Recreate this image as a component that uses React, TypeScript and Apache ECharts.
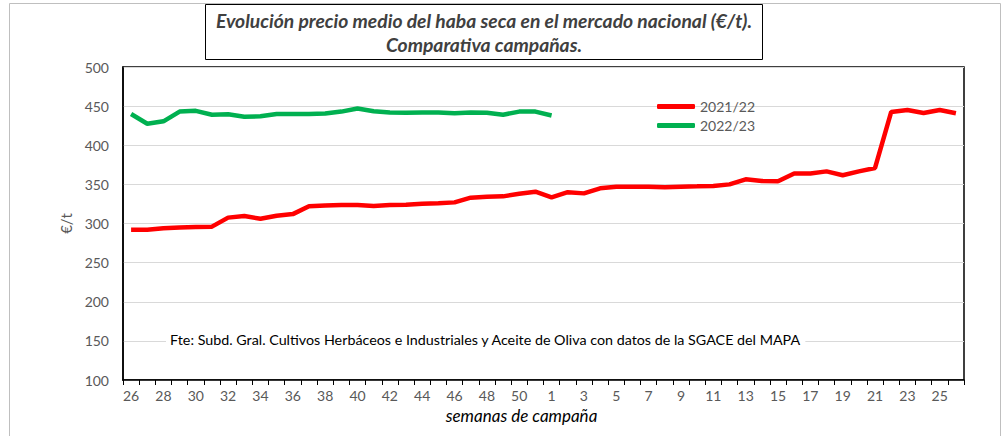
import React, { useEffect, useRef } from "react";
import * as echarts from "echarts";

const weeks = [
  "26","27","28","29","30","31","32","33","34","35","36","37","38","39","40","41","42","43","44","45","46","47","48","49","50","51",
  "1","2","3","4","5","6","7","8","9","10","11","12","13","14","15","16","17","18","19","20","21","22","23","24","25","26",
];

const serie2122 = [
  292, 292, 294, 295, 295.5, 296, 307.5, 309.5, 306, 310, 312, 322, 323, 323.5, 323.6, 322.5, 323.5, 324, 325.3, 326, 327, 333, 334.3, 334.7, 338, 340.6,
  333.5, 340, 338.5, 345, 347, 347, 347, 346.2, 347, 347.5, 348, 350, 356.5, 354.3, 354, 364, 364, 366.6, 361.6, 366.6, 371, 442.5, 445, 441.2, 445, 440.8,
];

const serie2223 = [
  440, 427.5, 430.6, 443, 444, 439, 439.5, 436.5, 437, 440, 440, 440, 440.5, 443, 447, 443.5, 442, 441.5, 442, 442, 441, 442, 441.5, 439, 443, 443,
  438,
];

const seriesNames = ["2021/22", "2022/23"];
const yTicks = { min: 100, max: 500, interval: 50 };

const FONT = "Lato, 'Open Sans', sans-serif";

export default function App() {
  const ref = useRef<HTMLDivElement>(null);
  useEffect(() => {
    if (!ref.current) return;
    const chart = echarts.init(ref.current, undefined, { renderer: "svg" });
    chart.setOption({
      animation: false,
      backgroundColor: "#ffffff",
      textStyle: { fontFamily: FONT },
      grid: {
        left: 123,
        right: 44,
        top: 67,
        bottom: 56,
        containLabel: false,
        show: true,
        borderColor: "#000",
        borderWidth: 1.5,
        backgroundColor: "transparent",
      },
      legend: {
        data: [
          { name: seriesNames[0], icon: "roundRect" },
          { name: seriesNames[1], icon: "roundRect" },
        ],
        orient: "vertical",
        left: 652,
        top: 93,
        itemWidth: 38,
        itemHeight: 5,
        itemGap: 2,
        textStyle: { color: "#595959", fontSize: 14, lineHeight: 17, fontFamily: FONT },
      },
      xAxis: {
        type: "category",
        data: weeks,
        boundaryGap: true,
        name: "semanas de campaña",
        nameLocation: "middle",
        nameGap: 26,
        nameTextStyle: {
          fontStyle: "italic",
          color: "#000",
          fontSize: 17,
          fontFamily: FONT,
          padding: [0, 44, 0, 0],
        },
        axisLine: { lineStyle: { color: "#000", width: 1.5 } },
        axisTick: { show: true, alignWithLabel: false, interval: 0, length: 5, lineStyle: { color: "#000" } },
        axisLabel: { interval: 1, color: "#595959", fontSize: 14, margin: 8, fontFamily: FONT },
        splitLine: { show: false },
      },
      yAxis: {
        type: "value",
        min: yTicks.min,
        max: yTicks.max,
        interval: yTicks.interval,
        name: "€/t",
        nameLocation: "middle",
        nameGap: 46,
        nameRotate: 90,
        nameTextStyle: { color: "#595959", fontSize: 15, fontFamily: FONT },
        axisLine: { show: true, lineStyle: { color: "#000", width: 1.5 } },
        axisTick: { show: false },
        axisLabel: { color: "#595959", fontSize: 14, margin: 14, fontFamily: FONT },
        splitLine: { show: true, lineStyle: { color: "#d9d9d9", width: 1 } },
      },
      series: [
        {
          name: seriesNames[0],
          type: "line",
          data: serie2122,
          symbol: "none",
          lineStyle: { color: "#ff0000", width: 4.5 },
          itemStyle: { color: "#ff0000" },
          z: 3,
        },
        {
          name: seriesNames[1],
          type: "line",
          data: serie2223,
          symbol: "none",
          lineStyle: { color: "#00b050", width: 4.5 },
          itemStyle: { color: "#00b050" },
          z: 2,
        },
      ],
      graphic: [
        {
          type: "rect",
          shape: { x: 9.5, y: 3.5, width: 991, height: 500 },
          style: { fill: "none", stroke: "#bfbfbf", lineWidth: 1 },
          z: 0,
        },
        {
          type: "rect",
          shape: { x: 205.5, y: 4.5, width: 557, height: 55 },
          style: { fill: "#ffffff", stroke: "#000", lineWidth: 1 },
          z: 10,
        },
        {
          type: "text",
          x: 484,
          y: 8,
          style: {
            text: "Evolución precio medio del haba seca en el mercado nacional (€/t).\nComparativa campañas.",
            align: "center",
            verticalAlign: "top",
            fontFamily: FONT,
            fontSize: 19.3,
            fontStyle: "italic",
            fontWeight: "bold",
            fill: "#404040",
            lineHeight: 24,
          },
          z: 11,
        },
        {
          type: "text",
          x: 166,
          y: 331,
          style: {
            text: "Fte: Subd. Gral. Cultivos Herbáceos e Industriales y Aceite de Oliva con datos de la SGACE del MAPA",
            fontFamily: FONT,
            fontSize: 14.3,
            fill: "#000",
            backgroundColor: "#ffffff",
            padding: [1, 4, 1, 4],
          },
          z: 11,
        },
      ],
    });
    return () => chart.dispose();
  }, []);
  return (
    <div
      ref={ref}
      style={{ position: "fixed", left: 0, top: 0, width: 1008, height: 436, background: "#fff" }}
    />
  );
}
